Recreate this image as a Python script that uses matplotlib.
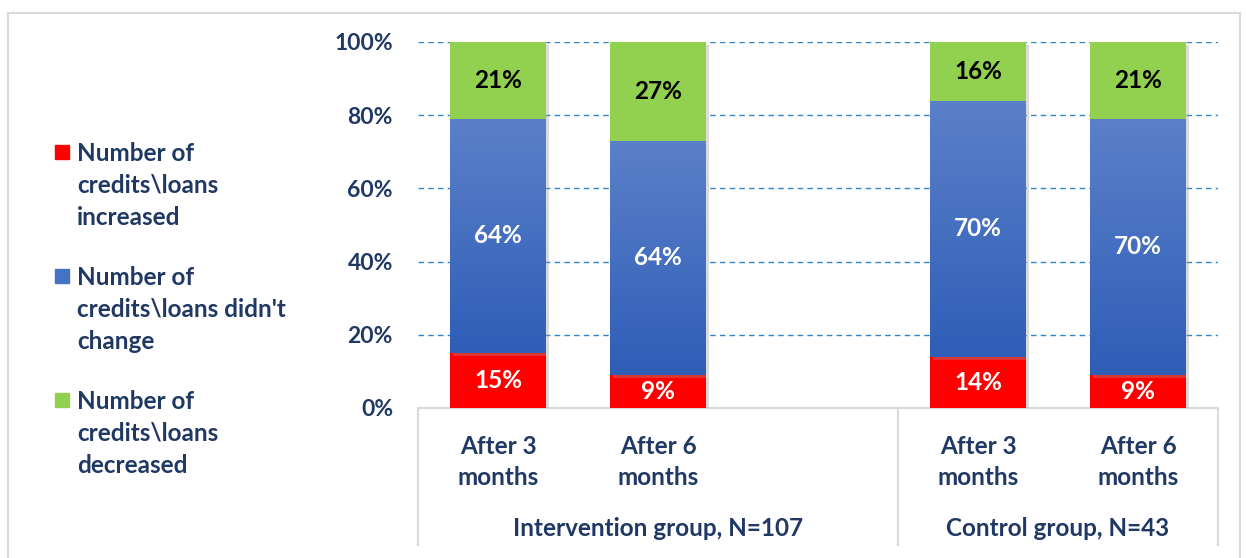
import numpy as np
import matplotlib
matplotlib.use("Agg")
import matplotlib.pyplot as plt
from matplotlib.patches import Rectangle
from matplotlib.ticker import PercentFormatter
import matplotlib.patheffects as pe
import matplotlib.transforms as mtransforms

# data
categories = ["After 3\nmonths", "After 6\nmonths", "After 3\nmonths", "After 6\nmonths"]
groups = ["Intervention group, N=107", "Control group, N=43"]
series = ["Number of\ncredits\\loans\nincreased",
          "Number of\ncredits\\loans didn't\nchange",
          "Number of\ncredits\\loans\ndecreased"]
increased = [15, 9, 14, 9]
unchanged = [64, 64, 70, 70]
decreased = [21, 27, 16, 21]

navy = "#203864"
red = "#ff0000"
blue = "#4472c4"
green = "#92d050"

plt.rcParams['font.family'] = ['Lato', 'DejaVu Sans']
plt.rcParams['font.weight'] = 'bold'
fs = 17.5

W, H = 1246, 558
fig = plt.figure(figsize=(W / 100, H / 100), dpi=100)
ax = fig.add_axes([418 / W, 1 - 408 / H, 800 / W, 366 / H])

# 5 slots, middle one empty between the groups
pos = [0, 1, 3, 4]
bw = 0.6
shadow = [pe.SimplePatchShadow(offset=(2, -2), shadow_rgbFace="#999999", alpha=0.35), pe.Normal()]

inc = np.array(increased)
unc = np.array(unchanged)
dec = np.array(decreased)
b1 = ax.bar(pos, inc, bw, color=red, zorder=3)
b2 = ax.bar(pos, unc, bw, bottom=inc, color=blue, zorder=3)
b3 = ax.bar(pos, dec, bw, bottom=inc + unc, color=green, zorder=3)
for bars in (b1, b2, b3):
    for p in bars:
        p.set_path_effects(shadow)

# vertical gradient on the blue segments
grad = np.linspace(0, 1, 256).reshape(-1, 1)
cmap = matplotlib.colors.LinearSegmentedColormap.from_list("bl", ["#2f5eb7", "#5b80c9"])
for p in b2:
    x0, y0 = p.get_x(), p.get_y()
    im = ax.imshow(grad, cmap=cmap, origin="lower", aspect="auto", zorder=3.5,
                   extent=(x0, x0 + p.get_width(), y0, y0 + p.get_height()))
    im.set_clip_path(p)

# labels in the segments
for bars, vals, bottoms, col in ((b1, inc, 0 * inc, "white"), (b2, unc, inc, "white"),
                                 (b3, dec, inc + unc, "black")):
    for x, v, b in zip(pos, vals, bottoms):
        ax.text(x, b + v / 2, f"{v}%", ha="center", va="center", color=col,
                fontsize=fs, fontweight="bold", zorder=5)

ax.set_xlim(-0.5, 4.5)
ax.set_ylim(0, 100)
ax.set_yticks(range(0, 101, 20))
ax.yaxis.set_major_formatter(PercentFormatter(decimals=0))
ax.yaxis.grid(True, linestyle=(0, (4, 3)), color="#2e86c9", linewidth=1, zorder=0)
ax.set_xticks(pos, categories)
ax.tick_params(axis="y", length=0, pad=18, labelsize=16.5, labelcolor=navy)
ax.tick_params(axis="x", length=0, pad=19.5, labelsize=fs, labelcolor=navy)
for t in ax.get_xticklabels():
    t.set_linespacing(1.42)
for s in ax.spines.values():
    s.set_visible(False)

# category box below the plot
bot = -(545 - 408) / 366
gray = "#d9d9d9"
ax.plot([0, 1], [0, 0], transform=ax.transAxes, color=gray, lw=1.5, clip_on=False, zorder=2)
for xa in (0, 0.6, 1):
    ax.plot([xa, xa], [0, bot], transform=ax.transAxes, color=gray, lw=1.5, clip_on=False)

trans = mtransforms.blended_transform_factory(ax.transData, ax.transAxes)
ax.text(1, -(528 - 408) / 366, groups[0], transform=trans, ha="center", va="center",
        fontsize=fs, color=navy)
ax.text(3.5, -(528 - 408) / 366, groups[1], transform=trans, ha="center", va="center",
        fontsize=fs, color=navy)

# legend drawn by hand (marker next to first line)
for i, (lab, bars) in enumerate(zip(series, (b1, b2, b3))):
    yc = 152 + 124 * i
    fig.patches.append(Rectangle((55 / W, 1 - (yc + 7) / H), 14 / W, 14 / H,
                                 transform=fig.transFigure, color=bars[0].get_facecolor()))
    fig.text(77 / W, 1 - (yc - 10) / H, lab, ha="left", va="top", fontsize=fs,
             color=navy, linespacing=1.47)

# outer chart border
fig.patches.append(Rectangle((8 / W, -0.05), 1232 / W, 1.05 - 13 / H, transform=fig.transFigure,
                             fill=False, edgecolor=gray, lw=1.5))

fig.savefig("out.png", dpi=100)
